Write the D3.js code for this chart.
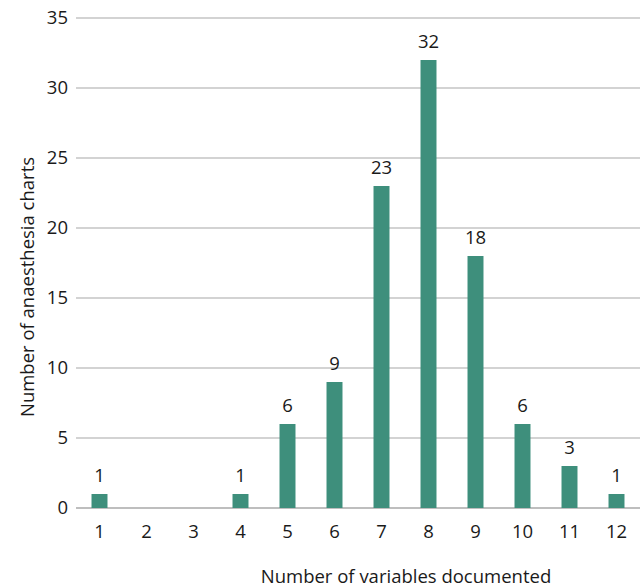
<!DOCTYPE html>
<html><head><meta charset="utf-8">
<script src="https://cdn.jsdelivr.net/npm/d3@7"></script>
<style>body{margin:0;background:#fff}text{font-family:"Open Sans","Noto Sans",sans-serif;fill:#1a1a1a}</style>
</head><body><svg id="c" width="640" height="587"></svg>
<script>
const categories = ["1","2","3","4","5","6","7","8","9","10","11","12"];
const values = [1,0,0,1,6,9,23,32,18,6,3,1];
const yTicks = [0,5,10,15,20,25,30,35];
const xTitle = "Number of variables documented";
const yTitle = "Number of anaesthesia charts";

const svg = d3.select("#c");
const x = d3.scaleBand().domain(categories).range([76,640]).paddingInner(0.66).paddingOuter(0.33);
const y = d3.scaleLinear().domain([0,35]).range([508,18]);
const fs = 18.5;

svg.append("g").selectAll("line").data(yTicks).join("line")
  .attr("x1",76).attr("x2",640).attr("y1",d=>y(d)).attr("y2",d=>y(d))
  .attr("stroke",d=>d===0?"#a8a8a8":"#c4c4c4").attr("stroke-width",1.5);

svg.append("g").selectAll("text").data(yTicks).join("text")
  .attr("x",68).attr("y",d=>y(d)).attr("dy","0.35em").attr("text-anchor","end")
  .attr("font-size",fs).text(d=>d);

const data = categories.map((c,i)=>({c,v:values[i]}));
svg.append("g").selectAll("rect").data(data.filter(d=>d.v>0)).join("rect")
  .attr("x",d=>x(d.c)).attr("width",x.bandwidth())
  .attr("y",d=>y(d.v)).attr("height",d=>y(0)-y(d.v)).attr("fill","#3e8f7c");

svg.append("g").selectAll("text").data(data.filter(d=>d.v>0)).join("text")
  .attr("x",d=>x(d.c)+x.bandwidth()/2).attr("y",d=>y(d.v)-12).attr("text-anchor","middle")
  .attr("font-size",fs).text(d=>d.v);

svg.append("g").selectAll("text").data(categories).join("text")
  .attr("x",d=>x(d)+x.bandwidth()/2).attr("y",538).attr("text-anchor","middle")
  .attr("font-size",fs).text(d=>d);

svg.append("text").attr("x",406).attr("y",583).attr("text-anchor","middle").attr("font-size",fs).text(xTitle);
svg.append("text").attr("transform","translate(34,287) rotate(-90)").attr("text-anchor","middle").attr("font-size",fs).text(yTitle);
</script></body></html>
